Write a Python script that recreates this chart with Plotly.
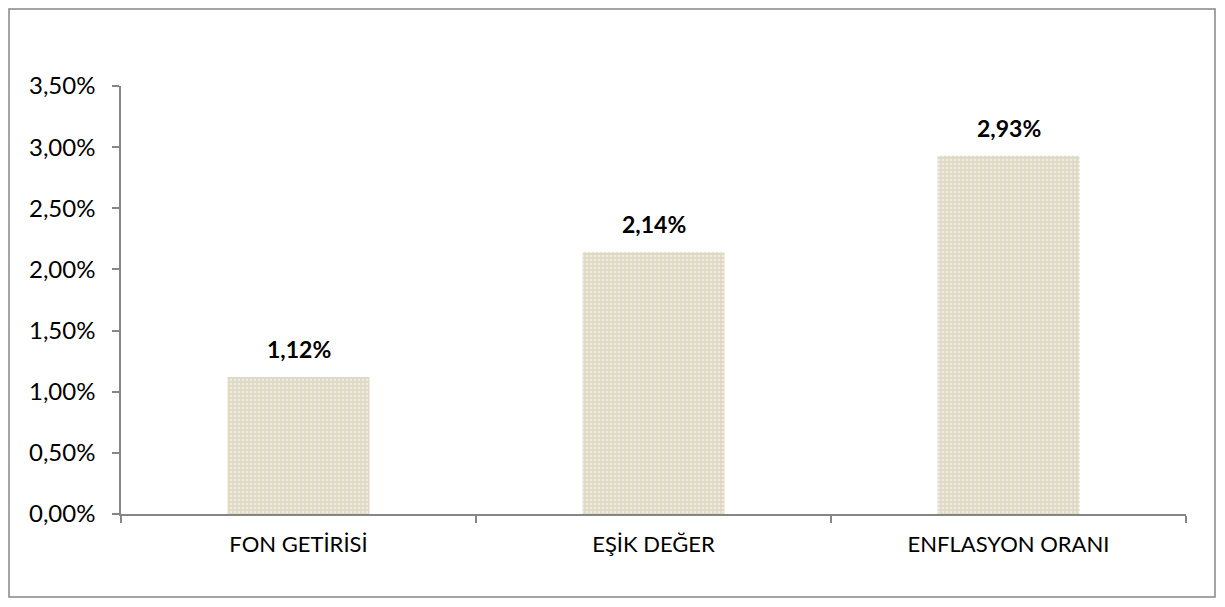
import plotly.graph_objects as go

categories = ["FON GETİRİSİ", "EŞİK DEĞER", "ENFLASYON ORANI"]
values = [0.0112, 0.0214, 0.0293]
label_texts = ["1,12%", "2,14%", "2,93%"]
y_ticks = [0, 0.005, 0.01, 0.015, 0.02, 0.025, 0.03, 0.035]

FONT = "Lato"
AX = "#868686"

# page has an 8px body margin; figure is sized to fit the 1225x607 window
W, H = 1209, 591
L, T = 113, 78
PW, PH = 1065, 428
R = W - L - PW
B = H - T - PH

fig = go.Figure()
fig.add_trace(go.Bar(
    x=categories, y=values,
    marker=dict(color="#ddd9c3", line=dict(width=0),
                pattern=dict(shape=".", fgcolor="#ffffff", size=4, solidity=0.35)),
    hoverinfo="skip",
))

for c, v, t in zip(categories, values, label_texts):
    fig.add_annotation(x=c, y=v, text=f"<b>{t}</b>", showarrow=False,
                       yanchor="middle", yshift=28,
                       font=dict(family=FONT, size=23, color="#000000"))

fig.update_layout(
    width=W, height=H,
    margin=dict(l=L, r=R, t=T, b=B),
    plot_bgcolor="white", paper_bgcolor="white",
    separators=",.",
    bargap=0.6,
    showlegend=False,
    font=dict(family=FONT, size=22, color="#000000"),
    xaxis=dict(showline=True, linecolor=AX, linewidth=1.5, tickson="boundaries",
               ticks="outside", ticklen=7, tickcolor=AX, tickwidth=1.5,
               showgrid=False, ticklabelstandoff=10,
               tickfont=dict(family=FONT, size=22, color="#000000")),
    yaxis=dict(range=[0, 0.035], tickvals=y_ticks, tickformat=".2%",
               showline=True, linecolor=AX, linewidth=1.5,
               ticks="outside", ticklen=7, tickcolor=AX, tickwidth=1.5,
               showgrid=False, zeroline=False, ticklabelstandoff=12,
               tickfont=dict(family=FONT, size=24, color="#000000")),
    shapes=[dict(type="rect", xref="paper", yref="paper",
                 x0=(1 - L) / PW, x1=(1207 - L) / PW,
                 y0=(PH + T - 589) / PH, y1=(PH + T - 1) / PH,
                 line=dict(color=AX, width=1.5), fillcolor="rgba(0,0,0,0)")],
)

fig.write_html("out.html")
